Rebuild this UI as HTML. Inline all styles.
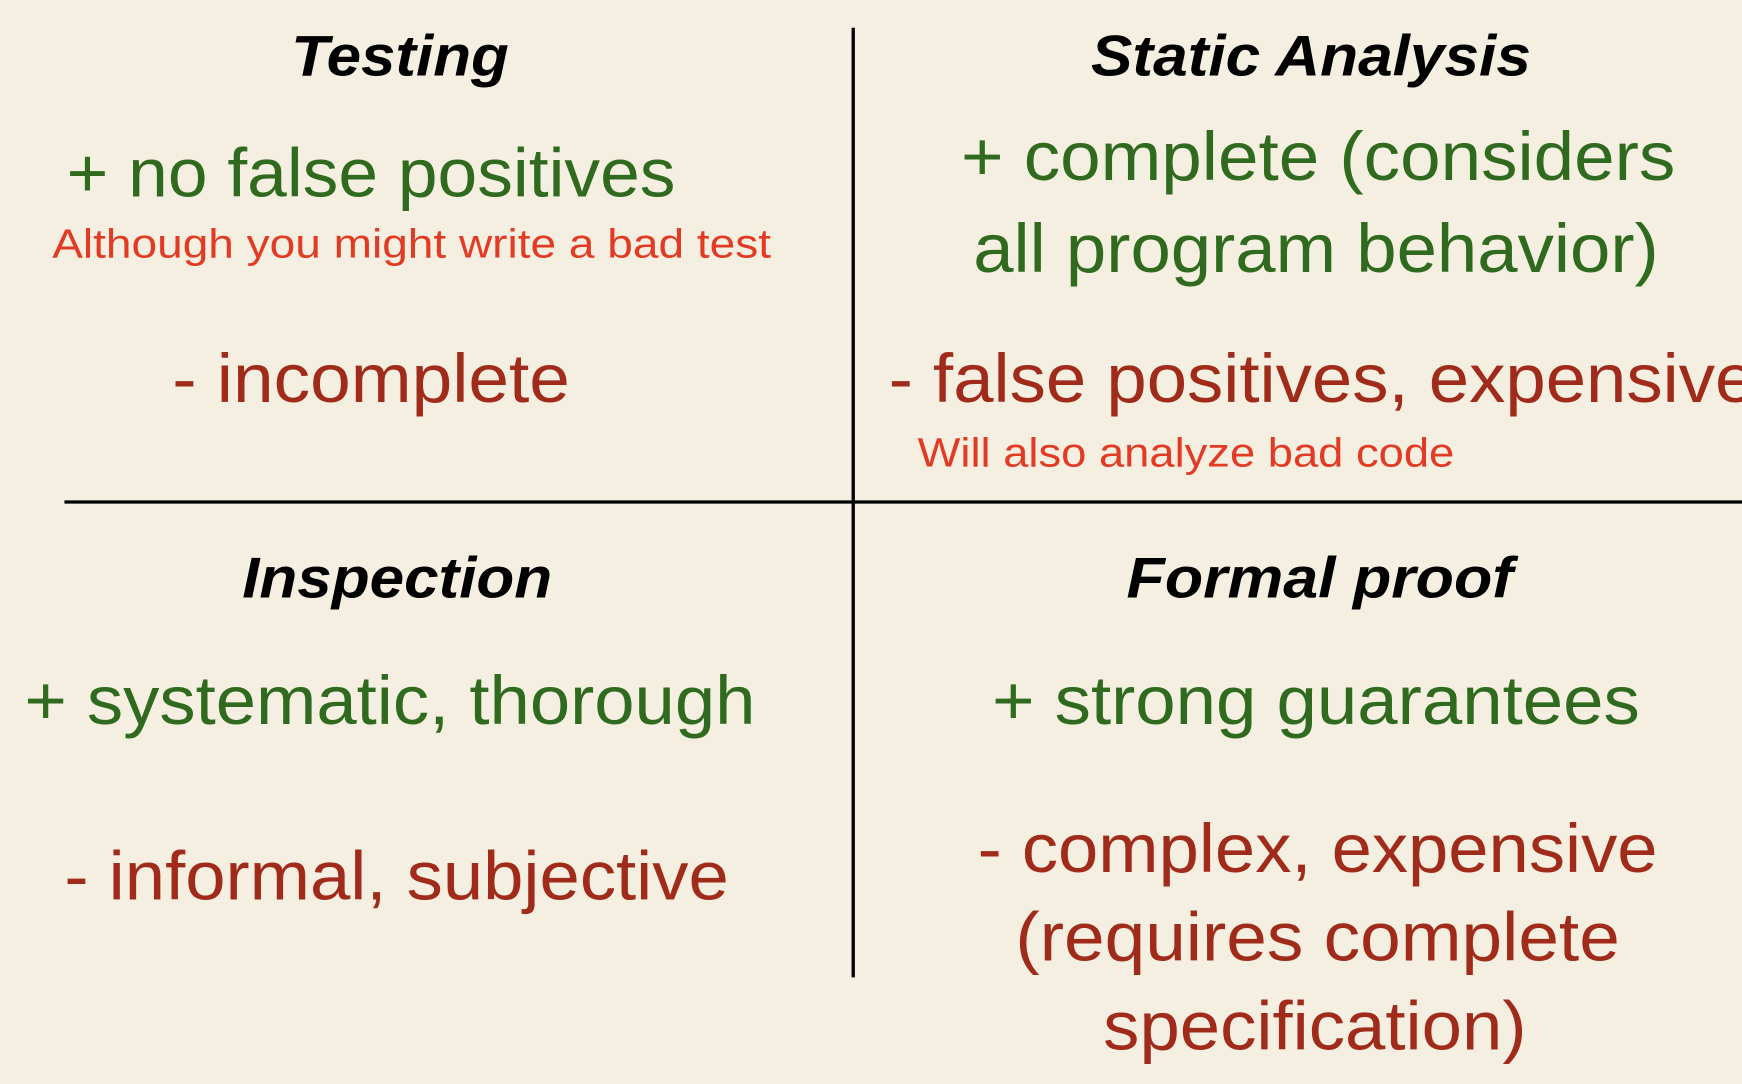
<!DOCTYPE html>
<html><head><meta charset="utf-8"><style>
html,body{margin:0;padding:0;background:#f4efe1;}
svg{display:block;}
text{font-family:"Liberation Sans",sans-serif;}
.h{font-weight:bold;font-style:italic;font-size:52px;fill:#000;}
.g{fill:#2f6a1f;font-size:62px;}
.r{fill:#a02b1b;font-size:62px;}
.s{fill:#e33a24;font-size:37px;}
</style></head><body>
<svg width="1742" height="1084" viewBox="0 0 1568 976" preserveAspectRatio="none">
<rect width="1568" height="976" fill="#f4efe1"/>
<line x1="768" y1="25" x2="768" y2="880" stroke="#000" stroke-width="3"/>
<line x1="58" y1="452" x2="1568" y2="452" stroke="#000" stroke-width="3"/>
<text class="h" x="262" y="68" textLength="196" lengthAdjust="spacingAndGlyphs">Testing</text>
<text class="h" x="982" y="68" textLength="396" lengthAdjust="spacingAndGlyphs">Static Analysis</text>
<text class="g" x="60" y="177" textLength="548" lengthAdjust="spacingAndGlyphs">+ no false positives</text>
<text class="s" x="47" y="232" textLength="647" lengthAdjust="spacingAndGlyphs">Although you might write a bad test</text>
<text class="r" x="155" y="362" textLength="358" lengthAdjust="spacingAndGlyphs">- incomplete</text>
<text class="g" x="865" y="162" textLength="643" lengthAdjust="spacingAndGlyphs">+ complete (considers</text>
<text class="g" x="876" y="245" textLength="617" lengthAdjust="spacingAndGlyphs">all program behavior)</text>
<text class="r" x="800" y="362" textLength="780" lengthAdjust="spacingAndGlyphs">- false positives, expensive</text>
<text class="s" x="826" y="420" textLength="483" lengthAdjust="spacingAndGlyphs">Will also analyze bad code</text>
<text class="h" x="218" y="538" textLength="279" lengthAdjust="spacingAndGlyphs">Inspection</text>
<text class="h" x="1014" y="538" textLength="348" lengthAdjust="spacingAndGlyphs">Formal proof</text>
<text class="g" x="22" y="652" textLength="658" lengthAdjust="spacingAndGlyphs">+ systematic, thorough</text>
<text class="r" x="58" y="810" textLength="598" lengthAdjust="spacingAndGlyphs">- informal, subjective</text>
<text class="g" x="893" y="652" textLength="583" lengthAdjust="spacingAndGlyphs">+ strong guarantees</text>
<text class="r" x="880" y="785" textLength="612" lengthAdjust="spacingAndGlyphs">- complex, expensive</text>
<text class="r" x="914" y="865" textLength="544" lengthAdjust="spacingAndGlyphs">(requires complete</text>
<text class="r" x="993" y="945" textLength="381" lengthAdjust="spacingAndGlyphs">specification)</text>
</svg>
</body></html>
